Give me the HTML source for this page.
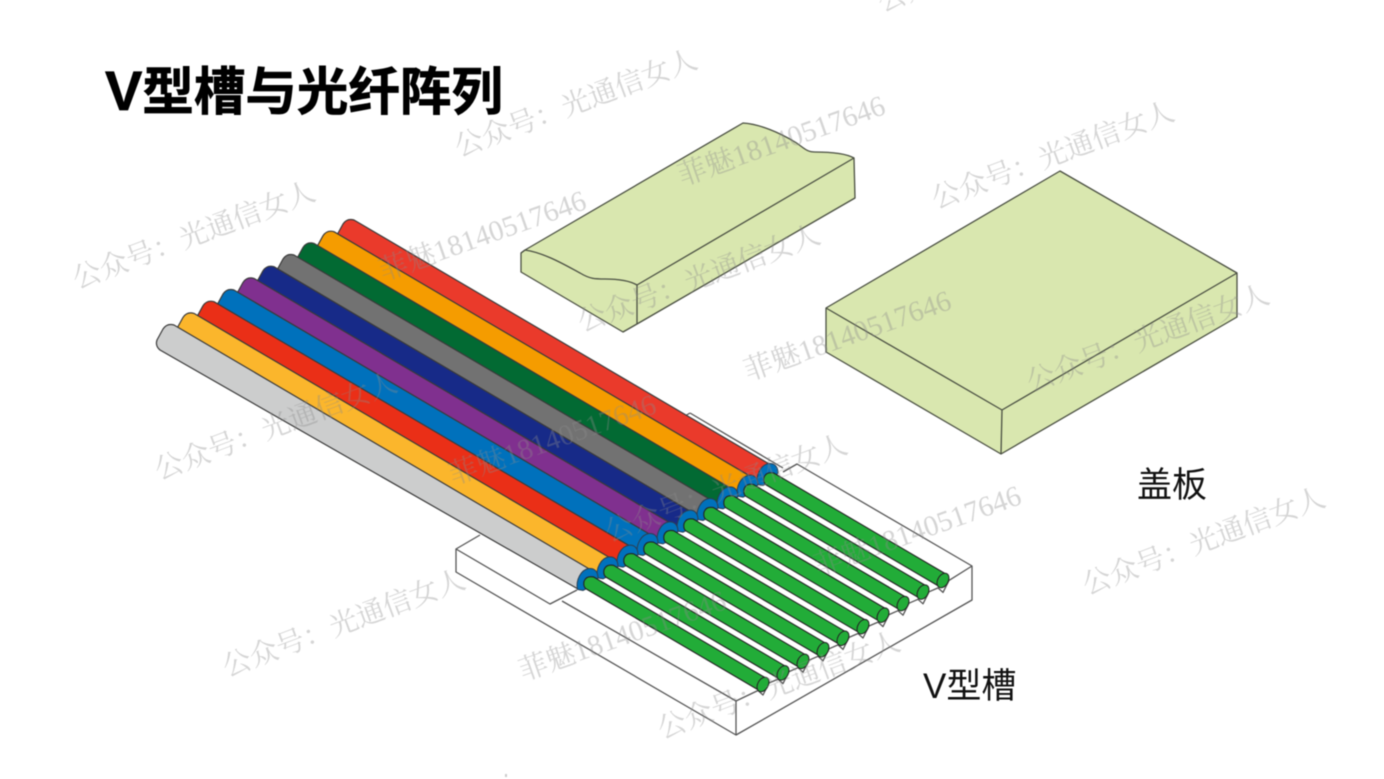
<!DOCTYPE html>
<html lang="zh"><head><meta charset="utf-8"><title>V型槽与光纤阵列</title>
<style>
html,body{margin:0;padding:0;background:#fff;width:1384px;height:779px;overflow:hidden}
svg{display:block;position:absolute;left:0;top:0;filter:blur(.4px)}
.t{font-family:"Liberation Sans","Noto Sans CJK SC",sans-serif}
.w{font-family:"Liberation Serif","Noto Serif CJK SC",serif;fill:#8a8a8a;fill-opacity:.36;font-size:28.5px}
.m{font-family:"Liberation Serif","Noto Serif CJK SC",serif;fill:#8a8a8a;fill-opacity:.36;font-size:29px}
</style></head><body>
<svg width="1384" height="779" viewBox="0 0 1384 779" xmlns="http://www.w3.org/2000/svg">
<defs>
<path id="c" d="M160,350 Q155,346 157,340 L163,329 Q167,323 174,325 L591,570 L578,589 Z" stroke="#3a3a3a" stroke-width="1.2" stroke-linejoin="round"/>
<path id="r" d="M577.5,589.5 C575.5,580 581,569.5 589,568.5 C594,568 598,571 598,578 L592,586 L583,590.5 Z" fill="#0071bc" stroke="#2c3e50" stroke-width="1"/>
<g id="f">
<path d="M593.5,576.9 Q586,575.5 584,581.5 Q583,587 586.5,589.1 L759.5,690.6 L766.5,678.4 Z" fill="#22ac38" stroke="#222" stroke-width="1.1" stroke-linejoin="round"/>
<ellipse cx="763" cy="684.5" rx="5.2" ry="7.8" transform="rotate(30 763 684.5)" fill="#22ac38" stroke="#222" stroke-width="1"/>
</g>
</defs>

<!-- lids -->
<g stroke="#4a4f42" stroke-width="1.3" stroke-linejoin="round" fill="#d9e7af">
<path d="M521,253 L525,250 L743,123 C760,124 780,133 795,142 C803,147 806,152 815,152 C830,152 845,153 854,158 L855,198 L637,324 L623,332 L521,272 Z"/>
<path fill="none" d="M521,253 L525,250 C545,253 565,265 580,273 C590,279 595,279 605,279 C620,279 630,281 637,285 L854,158 M637,285 L637,324"/>
<path d="M826,308 L1060,171 L1237,273 L1237,317 L1001,454 L826,352 Z"/>
<path fill="none" d="M826,308 L1002,410 L1237,273 M1002,410 L1001,454"/>
</g>

<!-- V-groove block -->
<g fill="none" stroke="#555" stroke-width="1.3" stroke-linejoin="round">
<path d="M480,535 L456,549 L550,604 L577,590"/>
<path d="M456,549 L456,572 L736,735 L972,600 L972,566 L797,464 L783,472"/>
<path d="M562,601 L736,701 L736,735"/>
<path d="M690,413 L783,468 M690,413 L685,416"/>
<path d="M736,701 L758,690.5 L763,695 L769,683 L778,679.1 L783,683.6 L789,671.6 L798,667.7 L803,672.2 L809,660.2 L818,656.3 L823,660.8 L829,648.8 L838,644.9 L843,649.4 L849,637.4 L858,633.5 L863,638 L869,626 L878,622.1 L883,626.6 L889,614.6 L898,610.7 L903,615.2 L909,603.2 L918,599.3 L923,603.8 L929,591.8 L938,587.9 L943,592.4 L949,580.4 L972,566"/>
</g>

<!-- cables, far to near -->
<g>
<use href="#c" transform="translate(180,-105)" fill="#ea3a2b"/><use href="#r" transform="translate(180,-105)"/>
<use href="#c" transform="translate(160,-93.3)" fill="#f59c00"/><use href="#r" transform="translate(160,-93.3)"/>
<use href="#c" transform="translate(140,-81.6)" fill="#026a33"/><use href="#r" transform="translate(140,-81.6)"/>
<use href="#c" transform="translate(120,-70)" fill="#727272"/><use href="#r" transform="translate(120,-70)"/>
<use href="#c" transform="translate(100,-58.3)" fill="#172a88"/><use href="#r" transform="translate(100,-58.3)"/>
<use href="#c" transform="translate(80,-46.6)" fill="#80308f"/><use href="#r" transform="translate(80,-46.6)"/>
<use href="#c" transform="translate(60,-35)" fill="#0071bc"/><use href="#r" transform="translate(60,-35)"/>
<use href="#c" transform="translate(40,-23.3)" fill="#ea2f17"/><use href="#r" transform="translate(40,-23.3)"/>
<use href="#c" transform="translate(20,-11.6)" fill="#fbb62c"/><use href="#r" transform="translate(20,-11.6)"/>
<use href="#c" fill="#cccdcd"/><use href="#r"/>
</g>

<!-- bare fibres -->
<g>
<use href="#f" transform="translate(180,-104)"/>
<use href="#f" transform="translate(160,-92.4)"/>
<use href="#f" transform="translate(140,-80.9)"/>
<use href="#f" transform="translate(120,-69.3)"/>
<use href="#f" transform="translate(100,-57.8)"/>
<use href="#f" transform="translate(80,-46.2)"/>
<use href="#f" transform="translate(60,-34.7)"/>
<use href="#f" transform="translate(40,-23.1)"/>
<use href="#f" transform="translate(20,-11.6)"/>
<use href="#f"/>
</g>

<!-- text -->
<text class="t" x="105" y="110" font-weight="700" fill="#000" stroke="#000" stroke-width=".7"><tspan font-size="56">V</tspan><tspan font-size="51.5">型槽与光纤阵列</tspan></text>
<text class="t" x="1137" y="497" font-size="35" fill="#111">盖板</text>
<text class="t" x="923" y="698" font-size="35" fill="#111">V型槽</text>

<!-- watermarks -->
<g>
<text class="w" transform="translate(459,157) rotate(-20.5)">公众号：光通信女人</text>
<text class="w" transform="translate(936,209) rotate(-20.5)">公众号：光通信女人</text>
<text class="w" transform="translate(77,289) rotate(-20.5)">公众号：光通信女人</text>
<text class="w" transform="translate(1031,392) rotate(-20.5)">公众号：光通信女人</text>
<text class="w" transform="translate(159,480) rotate(-20.5)">公众号：光通信女人</text>
<text class="w" transform="translate(1087,595) rotate(-20.5)">公众号：光通信女人</text>
<text class="w" transform="translate(227,677) rotate(-20.5)">公众号：光通信女人</text>
<text class="w" transform="translate(582,332) rotate(-20.5)">公众号：光通信女人</text>
<text class="w" transform="translate(662,739) rotate(-20.5)">公众号：光通信女人</text>
<text class="w" transform="translate(609,542) rotate(-20.5)">公众号：光通信女人</text>
<text class="w" transform="translate(882,12) rotate(-20.5)">公众号：光通信女人</text>
<text class="m" transform="translate(682,186) rotate(-19.5)">菲魅18140517646</text>
<text class="m" transform="translate(383,281) rotate(-19.5)">菲魅18140517646</text>
<text class="m" transform="translate(748,381) rotate(-19.5)">菲魅18140517646</text>
<text class="m" transform="translate(453,485) rotate(-19.5)">菲魅18140517646</text>
<text class="m" transform="translate(818,576) rotate(-19.5)">菲魅18140517646</text>
<text class="m" transform="translate(523,681) rotate(-19.5)">菲魅18140517646</text>
</g>
<rect x="505" y="774" width="2" height="3" fill="#ccc"/>
</svg>
</body></html>
